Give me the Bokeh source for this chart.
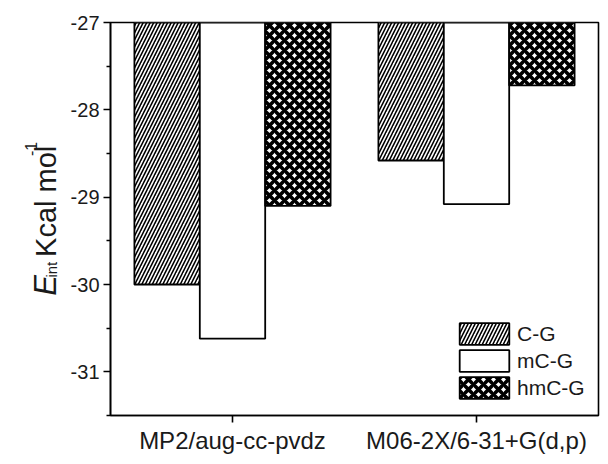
import math
from bokeh.plotting import figure
from bokeh.layouts import row
from bokeh.models import (FactorRange, Range1d, FixedTicker, Legend,
                          LegendItem, ColumnDataSource, CustomJSTickFormatter)
from bokeh.core.properties import value
from bokeh.transform import dodge
from bokeh.embed import file_html
from bokeh.resources import INLINE

# ---- data ----
methods = ["MP2/aug-cc-pvdz", "M06-2X/6-31+G(d,p)"]
series_names = ["C-G", "mC-G", "hmC-G"]
cg = [-30.00, -28.58]
mcg = [-30.62, -29.08]
hmcg = [-29.10, -27.72]
y_ticks = [-31, -30, -29, -28, -27]
y_minor = [-31.5, -30.5, -29.5, -28.5, -27.5]
y_start, y_end = -31.5, -27.0

# ---- layout constants (px) ----
W, H = 600, 456
LW = 64                      # width of the y-title strip
FL, FT, FR, FB = 110, 22, 598, 419
FONT = "Liberation Sans"
TXT = "#1a1a1a"

src = ColumnDataSource(dict(method=methods, cg=cg, mcg=mcg, hmcg=hmcg,
                            base=[y_end] * len(methods)))

p = figure(width=W - LW, height=H,
           x_range=FactorRange(factors=methods, range_padding=0),
           y_range=Range1d(y_start, y_end),
           output_backend="svg", toolbar_location=None,
           min_border_left=FL - LW, min_border_top=FT,
           min_border_right=W - FR, min_border_bottom=H - FB)

p.xgrid.visible = False
p.ygrid.visible = False
p.outline_line_color = "black"
p.outline_line_width = 1.6
p.background_fill_color = "white"
p.border_fill_color = "white"

bw = 0.268
common = dict(source=src, top="base", width=bw, line_color="black",
              line_width=1.8, hatch_color="black")
r1 = p.vbar(x=dodge("method", -bw, range=p.x_range), bottom="cg",
            fill_color="white", hatch_pattern="/", hatch_scale=7,
            hatch_weight=1.6, **common)
r2 = p.vbar(x=dodge("method", 0, range=p.x_range), bottom="mcg",
            fill_color="white", **common)
r3 = p.vbar(x=dodge("method", bw, range=p.x_range), bottom="hmcg",
            fill_color="white", hatch_pattern="x", hatch_scale=10,
            hatch_weight=3.6, **common)

legend = Legend(items=[LegendItem(label=n, renderers=[r])
                       for n, r in zip(series_names, [r1, r2, r3])],
                location=(343, 14), padding=0, margin=0, spacing=0,
                glyph_width=62, glyph_height=27, label_height=27,
                label_standoff=2, label_text_font=FONT,
                label_text_font_size="21px", label_text_color=TXT,
                border_line_alpha=0, background_fill_alpha=0)
p.add_layout(legend)

# axes
for ax in (p.xaxis[0], p.yaxis[0]):
    ax.axis_line_color = "black"
    ax.axis_line_width = 1.6
    ax.major_tick_line_color = "black"
    ax.major_tick_line_width = 1.6
    ax.major_tick_in = 0
    ax.major_tick_out = 7
    ax.major_label_text_font = FONT
    ax.major_label_text_color = TXT

p.xaxis.major_label_text_font_size = "24px"
p.xaxis.major_label_standoff = 4
p.yaxis.ticker = FixedTicker(ticks=y_ticks, minor_ticks=y_minor)
p.yaxis.formatter = CustomJSTickFormatter(code="return String(tick);")
p.yaxis.minor_tick_in = 0
p.yaxis.minor_tick_out = 4
p.yaxis.minor_tick_line_color = "black"
p.yaxis.minor_tick_line_width = 1.6
p.yaxis.major_label_text_font_size = "20px"
p.yaxis.major_label_standoff = 4

# ---- y-axis title strip (pixel coordinates, y downward) ----
t = figure(width=LW, height=H, x_range=Range1d(0, LW), y_range=Range1d(H, 0),
           output_backend="svg", toolbar_location=None,
           x_axis_location=None, y_axis_location=None,
           min_border=0, min_border_left=0, min_border_right=0,
           min_border_top=0, min_border_bottom=0)
t.xgrid.visible = False
t.ygrid.visible = False
t.outline_line_color = None
t.background_fill_color = "white"
t.border_fill_color = "white"

# (text, baseline x, start y from top, size, style)
pieces = [
    ("E", 45, 317, "31px", "italic"),
    ("int", 51, 296, "15px", "normal"),
    ("Kcal mol", 45, 272, "29px", "normal"),
    ("-1", 30, 155, "16px", "normal"),
]
for txt, fx, fy, fs, st in pieces:
    t.text(x=[fx], y=[fy], text=[txt], angle=math.pi / 2,
           text_font=value(FONT), text_font_size=fs, text_font_style=st,
           text_color=TXT, text_align="left", text_baseline="alphabetic")

layout = row(t, p, spacing=0)
open("out.html", "w").write(file_html(layout, INLINE))
